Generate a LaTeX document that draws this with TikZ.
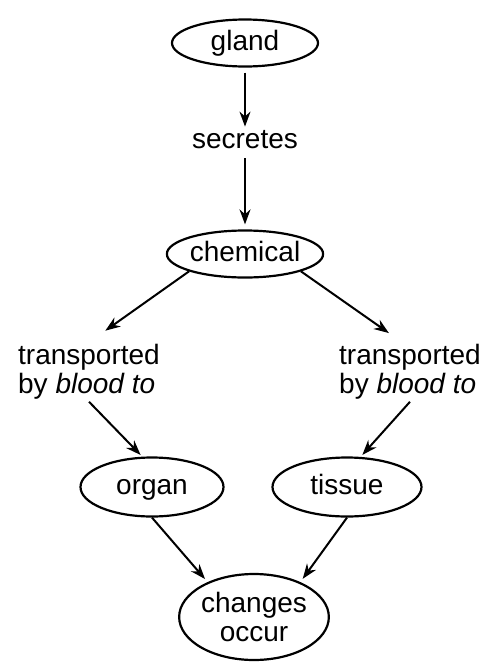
\documentclass[tikz,border=0pt]{standalone}
\usepackage{fontspec}
\setmainfont{Liberation Sans}
\usepackage{tikz}
\usetikzlibrary{arrows.meta,positioning,shapes.geometric}

\begin{document}
\begin{tikzpicture}[
	x=1pt, y=-1pt,
	on grid,
	font=\fontsize{28}{29}\selectfont,
	oval/.style={ellipse, draw, line width=2.2pt, inner sep=0pt, minimum width=146pt, minimum height=47pt, align=center},
	single/.style={text height=20pt, text depth=6pt},
	word/.style={align=left, inner sep=2pt},
	line/.style={-{Stealth[length=15pt,width=11pt]}, line width=2pt}
]
\useasboundingbox (0,0) rectangle (491,662);
\node[oval, single] (gland) at (245,43) {gland};
\node[word, below=97pt of gland] (secretes) {secretes};
\node[oval, single, below=114pt of secretes] (chemical) {chemical};
\node[word, below left=118pt and 156pt of chemical] (ltext) {transported\\by \textit{blood to}};
\node[word, below right=118pt and 165pt of chemical] (rtext) {transported\\by \textit{blood to}};
\node[oval, single, minimum width=143pt, minimum height=59pt, below right=115pt and 63pt of ltext] (organ) {organ};
\node[oval, single, minimum width=149pt, minimum height=59pt, below left=115pt and 63pt of rtext] (tissue) {tissue};
\node[oval, minimum width=146pt, minimum height=86pt, below right=130pt and 102pt of organ] (changes) {changes\\occur};

\draw[line, shorten <=5pt, shorten >=2pt] (gland) -- (secretes);
\draw[line, shorten <=7pt, shorten >=5pt] (secretes) -- (chemical);
\draw[line, shorten >=20pt] (chemical.south west) -- (ltext.north);
\draw[line, shorten >=16pt] (chemical.south east) -- ([xshift=-8pt]rtext.north);
\draw[line, shorten >=2pt] (ltext.south) -- ([xshift=-10pt]organ.north);
\draw[line, shorten >=2pt] (rtext.south) -- ([xshift=14pt]tissue.north);
\draw[line, shorten >=4pt] (organ.south) -- (changes.143);
\draw[line, shorten >=4pt] (tissue.south) -- (changes.37);
\end{tikzpicture}
\end{document}
